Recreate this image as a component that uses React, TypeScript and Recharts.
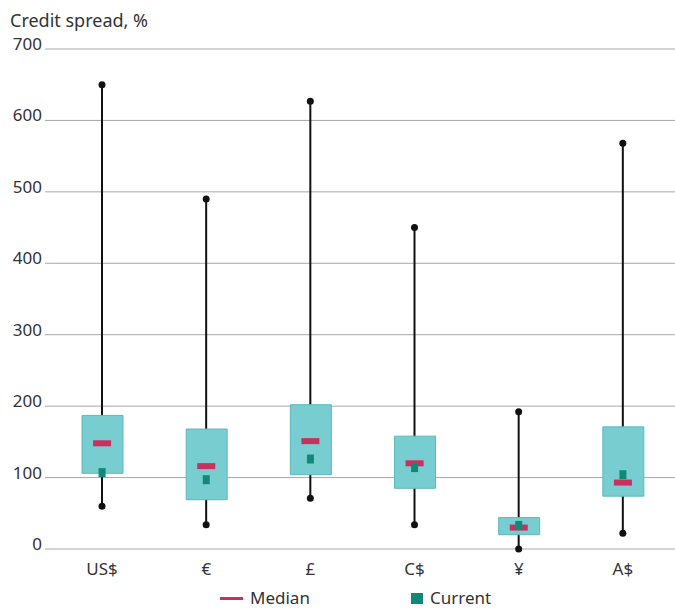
import React from "react"
import {
  ComposedChart,
  Bar,
  Scatter,
  XAxis,
  YAxis,
  CartesianGrid,
} from "recharts"

const CATEGORIES = ["US$", "€", "£", "C$", "¥", "A$"]
const MIN_VALUES = [60, 34, 71, 34, 0, 22]
const Q1_VALUES = [106, 69, 104, 85, 20, 74]
const Q3_VALUES = [187, 168, 202, 158, 44, 171]
const MAX_VALUES = [650, 490, 627, 450, 192, 568]
const MEDIAN_VALUES = [148, 116, 151, 120, 30, 93]
const CURRENT_VALUES = [107, 97, 126, 114, 33, 104]
const Y_TICKS = [0, 100, 200, 300, 400, 500, 600, 700]
const BOUNDARY_TICKS = [0, 1, 2, 3, 4, 5, 6]

const BOX_FILL = "#78cdd1"
const BOX_STROKE = "#5cb9bf"
const MEDIAN_COLOR = "#c9305e"
const CURRENT_COLOR = "#0f8a78"
const AXIS_GRAY = "#a8a8a8"
const TEXT = "#333333"
const FONT = "'Noto Sans', 'Open Sans', sans-serif"

const data = CATEGORIES.map((name, i) => ({
  name,
  whisker: [MIN_VALUES[i], MAX_VALUES[i]],
  box: [Q1_VALUES[i], Q3_VALUES[i]],
  median: MEDIAN_VALUES[i],
  current: CURRENT_VALUES[i],
}))

// eslint-disable-next-line @typescript-eslint/no-explicit-any
function WhiskerShape(props: any) {
  const { x, y, width, height } = props
  const cx = x + width / 2
  return (
    <g>
      <line x1={cx} x2={cx} y1={y} y2={y + height} stroke="#111" strokeWidth={2} />
      <circle cx={cx} cy={y} r={3.5} fill="#111" />
      <circle cx={cx} cy={y + height} r={3.5} fill="#111" />
    </g>
  )
}

// eslint-disable-next-line @typescript-eslint/no-explicit-any
function MedianShape(props: any) {
  const { cx, cy } = props
  return <rect x={cx - 9} y={cy - 3} width={18} height={6} fill={MEDIAN_COLOR} />
}

// eslint-disable-next-line @typescript-eslint/no-explicit-any
function CurrentShape(props: any) {
  const { cx, cy } = props
  return <rect x={cx - 3.5} y={cy - 4.5} width={7} height={9} fill={CURRENT_COLOR} />
}

export default function App() {
  return (
    <div style={{ position: "absolute", left: 0, top: 0, width: 675, height: 608, overflow: "hidden", fontFamily: FONT, color: TEXT }}>
      <div style={{ position: "absolute", left: 10, top: 8, fontSize: 18, lineHeight: "24px" }}>
        Credit spread, %
      </div>
      <ComposedChart
        width={675}
        height={608}
        data={data}
        margin={{ top: 49, right: 0, left: 0, bottom: 29 }}
        style={{ fontFamily: FONT }}
      >
        <CartesianGrid vertical={false} stroke={AXIS_GRAY} />
        <XAxis
          xAxisId="t"
          type="number"
          domain={[0, 6]}
          ticks={BOUNDARY_TICKS}
          allowDataOverflow
          height={0}
          padding={{ left: 5, right: 0 }}
          axisLine={{ stroke: AXIS_GRAY }}
          tickLine={{ stroke: AXIS_GRAY }}
          tickSize={6}
          tick={() => <g />}
        />
        <XAxis
          xAxisId="a"
          dataKey="name"
          height={30}
          padding={{ left: 5, right: 0 }}
          axisLine={false}
          tickLine={false}
          tickSize={0}
          tickMargin={14}
          tick={{ fill: TEXT, fontSize: 17 }}
          interval={0}
        />
        <XAxis xAxisId="b" dataKey="name" hide padding={{ left: 5, right: 0 }} />
        <YAxis
          domain={[0, 700]}
          ticks={Y_TICKS}
          width={45}
          axisLine={false}
          tickLine={false}
          tickSize={0}
          tickMargin={3}
          tick={{ fill: TEXT, fontSize: 17, dy: -5 }}
        />
        <Bar xAxisId="a" dataKey="whisker" barSize={10} shape={<WhiskerShape />} isAnimationActive={false} />
        <Bar
          xAxisId="b"
          dataKey="box"
          barSize={41}
          fill={BOX_FILL}
          stroke={BOX_STROKE}
          strokeWidth={1}
          isAnimationActive={false}
        />
        <Scatter xAxisId="a" dataKey="median" shape={<MedianShape />} isAnimationActive={false} />
        <Scatter xAxisId="a" dataKey="current" shape={<CurrentShape />} isAnimationActive={false} />
      </ComposedChart>
      <div
        style={{
          position: "absolute",
          top: 589,
          left: 0,
          width: 675,
          height: 18,
          fontSize: 17,
          lineHeight: "18px",
        }}
      >
        <div style={{ position: "absolute", left: 220, top: 8, width: 23, height: 3, background: MEDIAN_COLOR }} />
        <span style={{ position: "absolute", left: 250, top: 0 }}>Median</span>
        <div style={{ position: "absolute", left: 411, top: 4, width: 12, height: 11, background: CURRENT_COLOR }} />
        <span style={{ position: "absolute", left: 430, top: 0 }}>Current</span>
      </div>
    </div>
  )
}
